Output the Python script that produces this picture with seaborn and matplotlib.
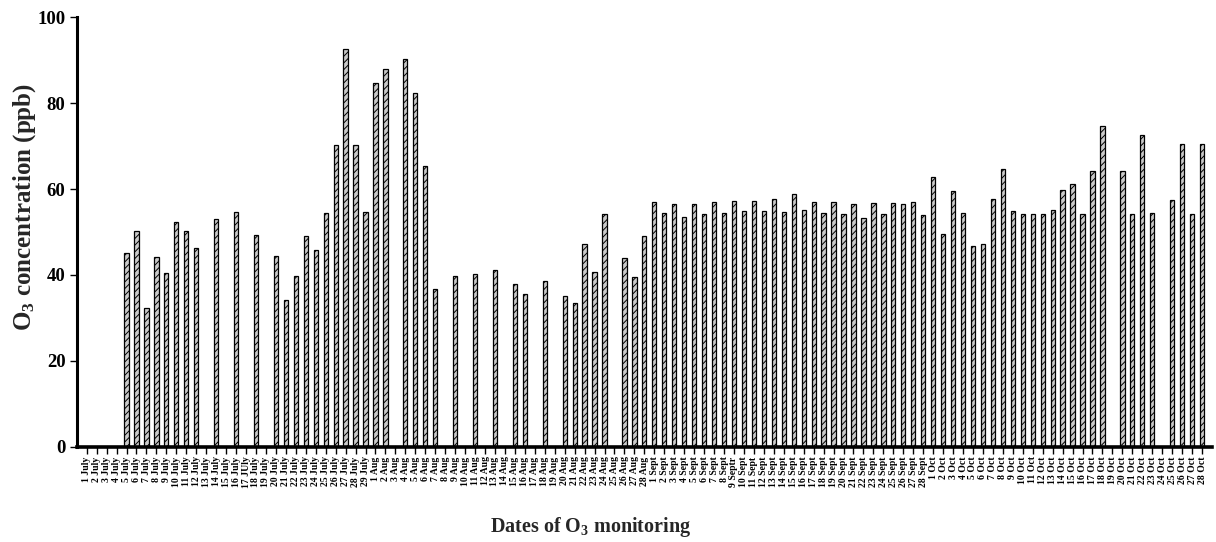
import numpy as np
import pandas as pd
import matplotlib
matplotlib.use("Agg")
import matplotlib.pyplot as plt
import seaborn as sns

# Daily mean O3 (ppb); None = no measurement on that day
july_days = list(range(1, 30))
july_o3 = [None, None, None, None, 45.0, 50.3, 32.2, 44.1, 40.5, 52.3,
           50.2, 46.2, None, 53.1, None, 54.7, None, 49.3, None, 44.3,
           34.1, 39.7, 49.1, 45.7, 54.4, 70.2, 92.6, 70.3, 54.7]

aug_days = list(range(1, 29))
aug_o3 = [84.6, 88.0, None, 90.2, 82.3, 65.3, 36.7, None, 39.8, None,
          40.2, None, 41.2, None, 37.8, 35.6, None, 38.5, None, 35.2,
          33.4, 47.3, 40.7, 54.1, None, 44.0, 39.6, 49.1]

sept_days = list(range(1, 29))
sept_o3 = [56.9, 54.5, 56.5, 53.6, 56.5, 54.1, 56.9, 54.4, 57.2, 54.8,
           57.3, 54.8, 57.8, 54.7, 58.8, 55.1, 57.1, 54.5, 57.1, 54.1,
           56.5, 53.3, 56.7, 54.2, 56.7, 56.6, 57.1, 53.9]

oct_days = list(range(1, 29))
oct_o3 = [62.7, 49.5, 59.5, 54.5, 46.7, 47.1, 57.6, 64.7, 54.8, 54.3,
          54.3, 54.3, 55.1, 59.7, 61.2, 54.3, 64.3, 74.7, None, 64.3,
          54.3, 72.5, 54.5, None, 57.4, 70.5, 54.3, 70.5]

# Tick labels as printed on the axis
july_labels = [f"{d} July" for d in july_days]
july_labels[16] = "17 JUly"
aug_labels = [f"{d} Aug" for d in aug_days]
sept_labels = [f"{d} Sept" for d in sept_days]
sept_labels[8] = "9 Septr"
oct_labels = [f"{d} Oct" for d in oct_days]

date_labels = july_labels + aug_labels + sept_labels + oct_labels
o3_values = july_o3 + aug_o3 + sept_o3 + oct_o3

y_ticks = [0, 20, 40, 60, 80, 100]

df = pd.DataFrame({"date": date_labels,
                   "o3": pd.to_numeric(pd.Series(o3_values), errors="coerce")})
df_obs = df.dropna()

sns.set_theme(style="ticks")
plt.rcParams["font.family"] = ["Liberation Serif", "DejaVu Serif"]
plt.rcParams["font.weight"] = "bold"
plt.rcParams["mathtext.fontset"] = "custom"
plt.rcParams["mathtext.rm"] = "Liberation Serif:bold"
plt.rcParams["mathtext.it"] = "Liberation Serif:bold"
plt.rcParams["mathtext.bf"] = "Liberation Serif:bold"
plt.rcParams["hatch.linewidth"] = 0.7
plt.rcParams["hatch.color"] = "#1a1a1a"

fig = plt.figure(figsize=(12.16, 5.42), dpi=100)
ax = fig.add_axes([0.0631, 0.1758, 0.9336, 0.7923])

sns.barplot(data=df_obs, x="date", y="o3", order=date_labels,
            color="#cacaca", saturation=1, width=0.43,
            edgecolor="black", linewidth=0.9, errorbar=None, ax=ax)
for bar in ax.patches:
    bar.set_hatch("/////")

ax.set_xlim(-1, len(date_labels))
ax.set_ylim(0, 100)
ax.set_yticks(y_ticks)
ax.set_yticklabels([str(t) for t in y_ticks], fontsize=13.5, fontweight="bold")
ax.set_xticks(range(len(date_labels)))
ax.set_xticklabels(date_labels, rotation=90, fontsize=7, fontweight="bold")

ax.tick_params(axis="x", direction="out", length=5, width=1, pad=2,
               bottom=True, colors="black")
ax.tick_params(axis="y", direction="out", length=5, width=1, pad=3,
               left=True, colors="black")

sns.despine(ax=ax)
ax.spines["left"].set_linewidth(2.2)
ax.spines["bottom"].set_linewidth(2.6)
ax.spines["left"].set_color("black")
ax.spines["bottom"].set_color("black")

ax.set_xlabel(r"Dates of O$_3$ monitoring", fontsize=14.5, fontweight="bold")
ax.set_ylabel(r"O$_3$ concentration (ppb)", fontsize=18, fontweight="bold")
ax.xaxis.label.set_va("center")
ax.yaxis.label.set_va("center")
ax.xaxis.set_label_coords(0.453, -0.186)
ax.yaxis.set_label_coords(-0.0455, 0.558)

fig.savefig("out.png", dpi=100, facecolor="white")
